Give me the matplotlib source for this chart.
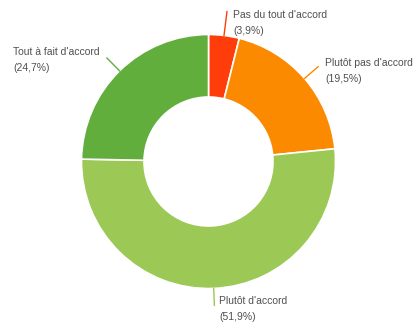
import numpy as np
import matplotlib

matplotlib.use("Agg")
import matplotlib.pyplot as plt

plt.rcParams["font.family"] = ["Liberation Sans", "DejaVu Sans"]

labels = ["Pas du tout d'accord", "Plutôt pas d'accord", "Plutôt d'accord", "Tout à fait d'accord"]
shares = [3.9, 19.5, 51.9, 24.7]
pct_text = ["(3,9%)", "(19,5%)", "(51,9%)", "(24,7%)"]
colors = ["#ff3d0a", "#fb8a00", "#9cc855", "#62ae3c"]

W, H = 418, 323
CX, CY, R = 208.5, 161.5, 127
HOLE = 64.5

fig = plt.figure(figsize=(W / 100, H / 100), dpi=100)
ax = fig.add_axes([0, 0, 1, 1])

wedges, _ = ax.pie(shares, colors=colors, startangle=90, counterclock=False,
                   center=(CX, H - CY), radius=R, frame=True,
                   wedgeprops=dict(width=R - HOLE, edgecolor="white", linewidth=1.2))
ax.set_xlim(0, W)
ax.set_ylim(0, H)
ax.set_aspect("equal")
ax.axis("off")

# leader length, then label offset from the leader end (dx, dy downward, ha)
leader = [24, 18, 17, 18]
offsets = [(6, 11, "left"), (7, 4, "left"), (5, 4, "left"), (-7, 2, "right")]

for w, lab, pct, col, ln, (dx, dy, ha) in zip(wedges, labels, pct_text, colors, leader, offsets):
    ang = np.deg2rad((w.theta1 + w.theta2) / 2)
    x0, y0 = CX + R * np.cos(ang), (H - CY) + R * np.sin(ang)
    x1, y1 = CX + (R + ln) * np.cos(ang), (H - CY) + (R + ln) * np.sin(ang)
    ax.plot([x0, x1], [y0, y1], color=col, lw=1)
    ax.text(x1 + dx, y1 - dy, f"{lab}\n{pct}", ha=ha, va="center", fontsize=7.5,
            color="#505050", linespacing=1.75, multialignment="left")

fig.savefig("out.png", dpi=100, facecolor="white")
